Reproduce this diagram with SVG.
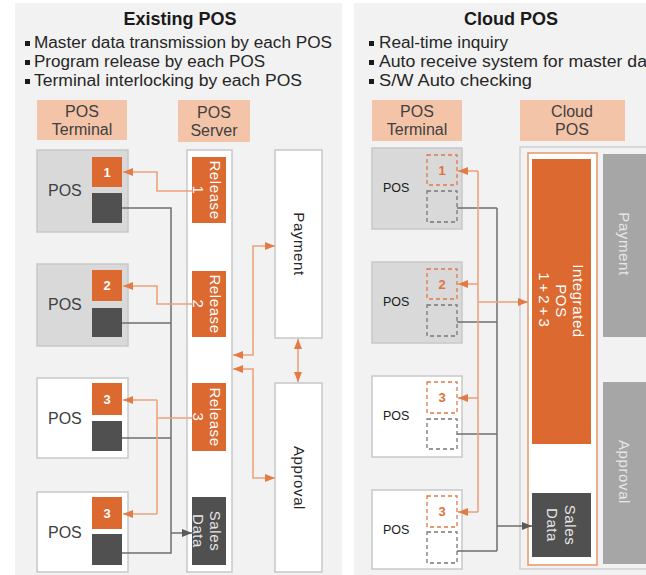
<svg xmlns="http://www.w3.org/2000/svg" width="646" height="575" viewBox="0 0 646 575">
<defs>
<marker id="ao" viewBox="0 0 10 8" refX="10" refY="4" markerWidth="10" markerHeight="8" markerUnits="userSpaceOnUse" orient="auto-start-reverse"><path d="M0,0 L10,4 L0,8 z" fill="#e47a45"/></marker>
<marker id="ag" viewBox="0 0 10 8" refX="10" refY="4" markerWidth="10" markerHeight="8" markerUnits="userSpaceOnUse" orient="auto-start-reverse"><path d="M0,0 L10,4 L0,8 z" fill="#5a5a5a"/></marker>
</defs>
<style>
text{font-family:"Liberation Sans",Arial,sans-serif;}
.panel{fill:#f2f2f2;}
.title{font-size:18px;font-weight:bold;fill:#1a1a1a;text-anchor:middle;}
.bul{font-size:16px;fill:#262626;}
.bsq{fill:#1a1a1a;}
.hdr{fill:#f4c4a8;}
.hdrt{font-size:16px;fill:#404040;text-anchor:middle;}
.posg{fill:#d9d9d9;stroke:#c8c8c8;stroke-width:1.5;}
.posw{fill:#ffffff;stroke:#c8c8c8;stroke-width:1.5;}
.post{font-size:16px;fill:#404040;}
.posr{font-size:12.5px;fill:#1a1a1a;}
.or{fill:#db6930;}
.dk{fill:#505050;}
.dig{font-size:13px;font-weight:bold;fill:#ffffff;text-anchor:middle;}
.digo{font-size:13px;font-weight:bold;fill:#e0723a;text-anchor:middle;}
.dso{fill:none;stroke:#e07a45;stroke-width:1.3;stroke-dasharray:4 3;}
.dsg{fill:none;stroke:#777777;stroke-width:1.3;stroke-dasharray:4 3;}
.col{fill:#ffffff;stroke:#c8c8c8;stroke-width:1.5;}
.rot{font-size:15px;text-anchor:middle;letter-spacing:0.6px;}
.wt{fill:#ffffff;}
.lt{fill:#e6e6e6;}
.bk{fill:#262626;}
.gb{fill:#a6a6a6;}
.lo{fill:none;stroke:#eda27c;stroke-width:1.6;}
.lg{fill:none;stroke:#6e6e6e;stroke-width:1.5;}
</style>
<rect width="646" height="575" fill="#ffffff"/>

<g id="existing-panel">
<rect class="panel" x="15" y="3" width="327" height="572"/>
<text class="title" x="180" y="25">Existing POS</text>
<rect class="bsq" x="25" y="41" width="5" height="5"/>
<text class="bul" x="34" y="48" textLength="298" lengthAdjust="spacingAndGlyphs">Master data transmission by each POS</text>
<rect class="bsq" x="25" y="60" width="5" height="5"/>
<text class="bul" x="34" y="67" textLength="231" lengthAdjust="spacingAndGlyphs">Program release by each POS</text>
<rect class="bsq" x="25" y="79" width="5" height="5"/>
<text class="bul" x="34" y="86" textLength="268" lengthAdjust="spacingAndGlyphs">Terminal interlocking by each POS</text>
</g>

<g id="cloud-panel">
<rect class="panel" x="354" y="3" width="300" height="572"/>
<text class="title" x="511" y="25">Cloud POS</text>
<rect class="bsq" x="369" y="41" width="5" height="5"/>
<text class="bul" x="379" y="48" textLength="129" lengthAdjust="spacingAndGlyphs">Real-time inquiry</text>
<rect class="bsq" x="369" y="60" width="5" height="5"/>
<text class="bul" x="379" y="67" textLength="268" lengthAdjust="spacingAndGlyphs">Auto receive system for master da</text>
<rect class="bsq" x="369" y="79" width="5" height="5"/>
<text class="bul" x="379" y="86" textLength="153" lengthAdjust="spacingAndGlyphs">S/W Auto checking</text>
</g>

<g id="hdr-terminal-left"><rect class="hdr" x="37" y="100" width="90" height="40"/><text class="hdrt" x="82" y="117">POS</text><text class="hdrt" x="82" y="135">Terminal</text></g>
<g id="hdr-server"><rect class="hdr" x="178" y="100" width="72" height="42"/><text class="hdrt" x="214" y="118">POS</text><text class="hdrt" x="214" y="136">Server</text></g>
<g id="hdr-terminal-right"><rect class="hdr" x="372" y="100" width="90" height="41"/><text class="hdrt" x="417" y="117">POS</text><text class="hdrt" x="417" y="135">Terminal</text></g>
<g id="hdr-cloud"><rect class="hdr" x="520" y="100" width="105" height="41"/><text class="hdrt" x="572" y="117">Cloud</text><text class="hdrt" x="572" y="135">POS</text></g>

<g id="pos1"><rect class="posg" x="37" y="150" width="91" height="82"/><text class="post" x="48" y="196">POS</text><rect class="or" x="92" y="157" width="30" height="30"/><text class="dig" x="107" y="177">1</text><rect class="dk" x="92" y="193" width="30" height="30"/></g>
<g id="pos2"><rect class="posg" x="37" y="264" width="91" height="82"/><text class="post" x="48" y="310">POS</text><rect class="or" x="92" y="270" width="30" height="31"/><text class="dig" x="107" y="290">2</text><rect class="dk" x="92" y="308" width="30" height="29"/></g>
<g id="pos3"><rect class="posw" x="37" y="378" width="91" height="80"/><text class="post" x="48" y="424">POS</text><rect class="or" x="92" y="383" width="30" height="32"/><text class="dig" x="107" y="404">3</text><rect class="dk" x="92" y="421" width="30" height="30"/></g>
<g id="pos4"><rect class="posw" x="37" y="492" width="91" height="80"/><text class="post" x="48" y="538">POS</text><rect class="or" x="92" y="497" width="30" height="32"/><text class="dig" x="107" y="518">3</text><rect class="dk" x="92" y="534" width="30" height="31"/></g>

<g id="pos-server">
<rect class="col" x="187" y="150" width="45" height="422"/>
<rect class="or" x="192" y="157" width="34" height="66"/>
<text class="rot wt" transform="translate(209,190) rotate(90)"><tspan x="0" y="-1">Release</tspan><tspan x="0" y="16">1</tspan></text>
<rect class="or" x="192" y="271" width="34" height="66"/>
<text class="rot wt" transform="translate(209,304) rotate(90)"><tspan x="0" y="-1">Release</tspan><tspan x="0" y="16">2</tspan></text>
<rect class="or" x="192" y="383" width="34" height="68"/>
<text class="rot wt" transform="translate(209,417) rotate(90)"><tspan x="0" y="-1">Release</tspan><tspan x="0" y="16">3</tspan></text>
<rect class="dk" x="192" y="497" width="34" height="68"/>
<text class="rot lt" transform="translate(209,531) rotate(90)"><tspan x="0" y="-1">Sales</tspan><tspan x="0" y="16">Data</tspan></text>
</g>

<g id="payment-left"><rect class="col" x="275" y="150" width="47" height="188"/><text class="rot bk" transform="translate(298.5,244) rotate(90)" x="0" y="5">Payment</text></g>
<g id="approval-left"><rect class="col" x="275" y="383" width="47" height="189"/><text class="rot bk" transform="translate(298.5,478) rotate(90)" x="0" y="5">Approval</text></g>

<g id="rpos1"><rect class="posg" x="372" y="148" width="90" height="81"/><text class="posr" x="383" y="192">POS</text><rect class="dso" x="427" y="155" width="30" height="30"/><text class="digo" x="442" y="175">1</text><rect class="dsg" x="427" y="191" width="30" height="31"/></g>
<g id="rpos2"><rect class="posg" x="372" y="262" width="90" height="81"/><text class="posr" x="383" y="306">POS</text><rect class="dso" x="427" y="269" width="30" height="30"/><text class="digo" x="442" y="289">2</text><rect class="dsg" x="427" y="305" width="30" height="31"/></g>
<g id="rpos3"><rect class="posw" x="372" y="376" width="90" height="81"/><text class="posr" x="383" y="420">POS</text><rect class="dso" x="427" y="382" width="30" height="31"/><text class="digo" x="442" y="402">3</text><rect class="dsg" x="427" y="419" width="30" height="30"/></g>
<g id="rpos4"><rect class="posw" x="372" y="490" width="90" height="79"/><text class="posr" x="383" y="534">POS</text><rect class="dso" x="427" y="496" width="30" height="31"/><text class="digo" x="442" y="516">3</text><rect class="dsg" x="427" y="532" width="30" height="31"/></g>

<g id="cloud-pos">
<rect x="520" y="147" width="140" height="422" fill="#f2f2f2" stroke="#cfcfcf" stroke-width="1.5"/>
<rect x="528" y="153" width="69" height="412" fill="#ffffff" stroke="#e8956a" stroke-width="1.5"/>
<rect class="or" x="532" y="159" width="59" height="285"/>
<text class="rot wt" transform="translate(561.5,301) rotate(90)"><tspan x="0" y="-11.5">Integrated</tspan><tspan x="0" y="5.5">POS</tspan><tspan x="0" y="23" letter-spacing="3px">1+2+3</tspan></text>
<rect class="dk" x="532" y="493" width="59" height="64"/>
<text class="rot lt" transform="translate(561.5,525) rotate(90)"><tspan x="0" y="-3.5">Sales</tspan><tspan x="0" y="14.5">Data</tspan></text>
</g>
<g id="payment-right"><rect class="gb" x="603" y="154" width="50" height="183"/><text class="rot lt" transform="translate(623,244) rotate(90)" x="0" y="4">Payment</text></g>
<g id="approval-right"><rect class="gb" x="603" y="382" width="50" height="182"/><text class="rot lt" transform="translate(623,472) rotate(90)" x="0" y="4">Approval</text></g>

<g id="connectors">
<polyline class="lg" points="122,208 171,208 171,553 122,553"/>
<line class="lg" x1="122" y1="323" x2="171" y2="323"/>
<line class="lg" x1="122" y1="438" x2="171" y2="438"/>
<line class="lg" x1="171" y1="533" x2="192" y2="533" marker-end="url(#ag)"/>
<polyline class="lo" points="192,191 157,191 157,172 123,172" marker-end="url(#ao)"/>
<polyline class="lo" points="192,304 157,304 157,286 123,286" marker-end="url(#ao)"/>
<line class="lo" x1="192" y1="418" x2="157" y2="418"/>
<line class="lo" x1="157" y1="400" x2="157" y2="514"/>
<line class="lo" x1="157" y1="400" x2="123" y2="400" marker-end="url(#ao)"/>
<line class="lo" x1="157" y1="514" x2="123" y2="514" marker-end="url(#ao)"/>
<polyline class="lo" points="233,355 253,355 253,246 275,246" marker-start="url(#ao)" marker-end="url(#ao)"/>
<polyline class="lo" points="233,369 253,369 253,478 275,478" marker-start="url(#ao)" marker-end="url(#ao)"/>
<line class="lo" x1="298" y1="339" x2="298" y2="382" marker-start="url(#ao)" marker-end="url(#ao)"/>
<line class="lg" x1="497" y1="208" x2="497" y2="551"/>
<line class="lg" x1="457" y1="208" x2="497" y2="208"/>
<line class="lg" x1="457" y1="322" x2="497" y2="322"/>
<line class="lg" x1="457" y1="434" x2="497" y2="434"/>
<line class="lg" x1="457" y1="551" x2="497" y2="551"/>
<line class="lg" x1="497" y1="526" x2="532" y2="526" marker-end="url(#ag)"/>
<line class="lo" x1="478" y1="171" x2="478" y2="512"/>
<line class="lo" x1="478" y1="171" x2="458" y2="171" marker-end="url(#ao)"/>
<line class="lo" x1="478" y1="284" x2="458" y2="284" marker-end="url(#ao)"/>
<line class="lo" x1="478" y1="398" x2="458" y2="398" marker-end="url(#ao)"/>
<line class="lo" x1="478" y1="512" x2="458" y2="512" marker-end="url(#ao)"/>
<line class="lo" x1="478" y1="302" x2="528" y2="302" marker-end="url(#ao)"/>
</g>
</svg>
